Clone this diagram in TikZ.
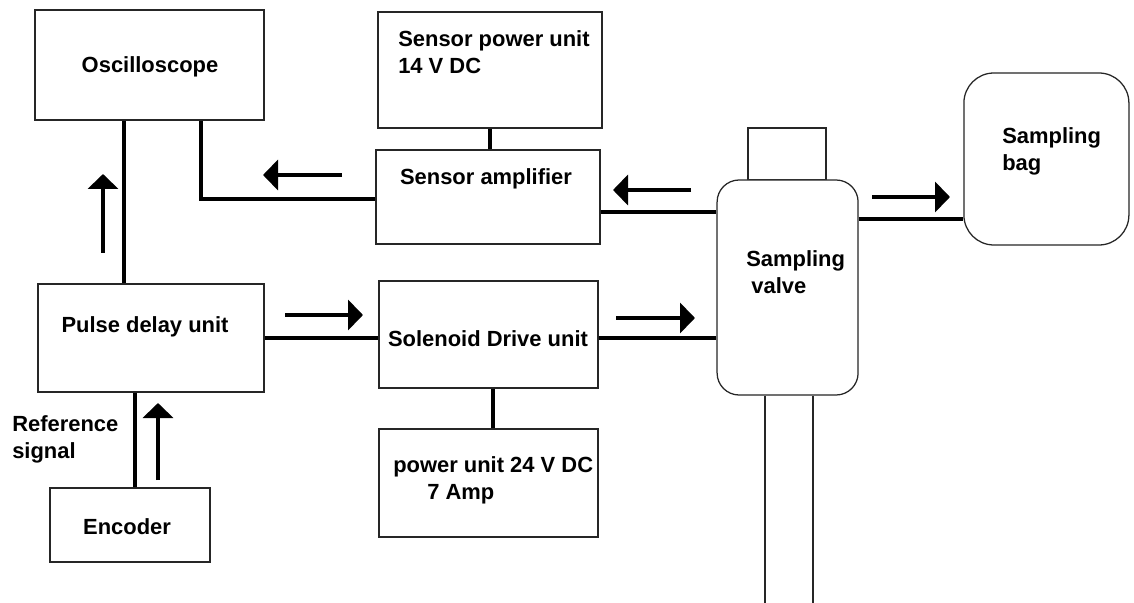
\documentclass[tikz,border=0pt]{standalone}
\usepackage{fontspec}
\setmainfont{Liberation Sans}
\usetikzlibrary{arrows.meta}

\begin{document}
\begin{tikzpicture}[
        % --- Box styles ---
        box/.style={draw=black!85, line width=1pt, fill=white, inner sep=0pt},
        roundbox/.style={box, line width=0.9pt, rounded corners=0.55cm},
        txt/.style={font=\fontsize{15.6pt}{18.9pt}\selectfont\bfseries, inner sep=0pt, align=left},
        % --- Line styles ---
        wire/.style={line width=2.8pt},
        flow/.style={line width=2.8pt, -{Triangle[length=0.375cm, width=0.75cm]}},
    ]

    \useasboundingbox (0,0) rectangle (28.35,-15.075);

    % ===== Column positions =====
    %  Left column (scope, delay, encoder): x = 3.7
    %  Middle column (power, amplifier, drive): x = 12.2
    %  Valve: x = 19.7,  Bag: x = 26.2

    % ===== Boxes =====
    \node[box, minimum width=5.725cm, minimum height=2.75cm]  (osc) at (3.74, -1.625)   {};
    \node[box, minimum width=5.6cm,   minimum height=2.9cm]   (spu) at (12.25, -1.75)   {};
    \node[box, minimum width=5.6cm,   minimum height=2.35cm]  (amp) at (12.2, -4.925)   {};
    \node[box, minimum width=5.65cm,  minimum height=2.7cm]   (pdu) at (3.775, -8.45)   {};
    \node[box, minimum width=5.475cm, minimum height=2.675cm] (sdu) at (12.21, -8.3625) {};
    \node[box, minimum width=5.475cm, minimum height=2.7cm]   (pwr) at (12.21, -12.075) {};
    \node[box, minimum width=4.0cm,   minimum height=1.85cm]  (enc) at (3.25, -13.125) {};

    % Valve with its cap, and the bag
    \node[box, minimum width=1.95cm, minimum height=1.3cm] (cap) at (19.675, -3.85) {};
    \node[roundbox, minimum width=3.525cm, minimum height=5.375cm] (valve) at (19.69, -7.1875) {};
    \node[roundbox, rounded corners=0.75cm, minimum width=4.125cm, minimum height=4.3cm] (bag) at (26.16, -3.975) {};

    % Pipe below the valve
    \draw[black!85, line width=0.9pt] ([xshift=-0.565cm]valve.south) -- ++(0,-5.3);
    \draw[black!85, line width=0.9pt] ([xshift=0.635cm]valve.south) -- ++(0,-5.3);

    % ===== Texts =====
    \node[txt, anchor=base] (osctxt) at (3.75, -1.8175) {Oscilloscope};
    \node[txt, anchor=north west] (sputxt) at (9.95, -0.7675) {Sensor power unit\\14 V DC};
    \node[txt, anchor=base] (amptxt) at (12.15, -4.6075) {Sensor amplifier};
    \node[txt, anchor=base] (pdutxt) at (3.625, -8.3075) {Pulse delay unit};
    \node[txt, anchor=base] (sdutxt) at (12.2, -8.65) {Solenoid Drive unit};
    \node[txt, anchor=north west] (pwrtxt) at (9.825, -11.4175) {power unit 24 V DC\\\hspace*{0.85cm}7 Amp};
    \node[txt, anchor=base] (enctxt) at (3.175, -13.35) {Encoder};
    \node[txt, anchor=north west] (reftxt) at (0.3, -10.3925) {Reference\\signal};
    \node[txt, anchor=north west] (valvetxt) at (18.65, -6.2675) {Sampling\\\hspace*{0.13cm}valve};
    \node[txt, anchor=north west] (bagtxt) at (25.05, -3.1825) {Sampling\\bag};

    % ===== Wires =====
    \draw[wire] ([xshift=-0.64cm]osc.south) -- ([xshift=-0.64cm]osc.south |- pdu.north);
    \draw[wire] ([xshift=1.285cm]osc.south) |- ([yshift=-0.05cm]amp.west);
    \draw[wire] (spu.south) -- (spu.south |- amp.north);
    \draw[wire] ([yshift=-0.375cm]amp.east) -- ([yshift=-0.375cm]amp.east -| valve.west);
    \draw[wire] (pdu.east) -- (pdu.east -| sdu.west);
    \draw[wire] ([yshift=-0.0875cm]sdu.east) -- ([yshift=-0.0875cm]sdu.east -| valve.west);
    \draw[wire] ([xshift=0.115cm]sdu.south) -- ([xshift=0.115cm]sdu.south |- pwr.north);
    \draw[wire] ([xshift=-0.4cm]pdu.south) -- ([xshift=-0.4cm]pdu.south |- enc.north);
    \draw[wire] ([yshift=1.7125cm]valve.east) -- ([yshift=1.7125cm]valve.east -| bag.west);

    % ===== Flow arrows =====
    \coordinate (f1a) at (8.55, -4.375);   \coordinate (f1b) at (6.575, -4.375);
    \coordinate (f2a) at (2.575, -6.325);  \coordinate (f2b) at (2.575, -4.35);
    \coordinate (f3a) at (7.125, -7.875);  \coordinate (f3b) at (9.075, -7.875);
    \coordinate (f4a) at (17.275, -4.75);  \coordinate (f4b) at (15.325, -4.75);
    \coordinate (f5a) at (15.4, -7.95);    \coordinate (f5b) at (17.375, -7.95);
    \coordinate (f6a) at (3.95, -12.0);    \coordinate (f6b) at (3.95, -10.075);
    \coordinate (f7a) at (21.8, -4.925);   \coordinate (f7b) at (23.75, -4.925);
    \foreach \i in {1,...,7}
        \draw[flow] (f\i a) -- (f\i b);

\end{tikzpicture}
\end{document}
